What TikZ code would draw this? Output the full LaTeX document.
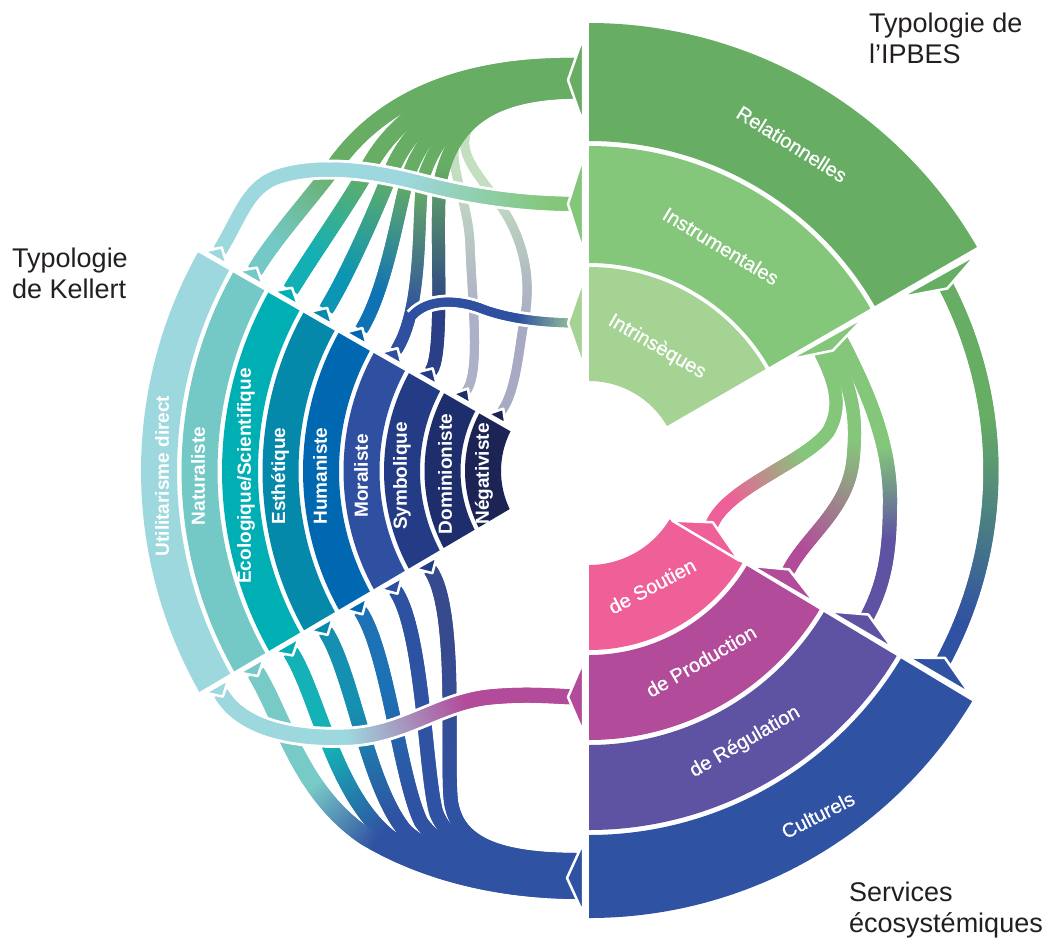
\documentclass[tikz,border=0pt]{standalone}
\usepackage{fontspec}
\setmainfont{Liberation Sans}
\newfontfamily\labfont[FakeBold=0.6]{Liberation Sans}
\usetikzlibrary{calc,decorations.markings}
\definecolor{crel}{HTML}{67AD64}
\definecolor{cinst}{HTML}{84C77B}
\definecolor{cintr}{HTML}{A5D394}
\definecolor{csout}{HTML}{EF5F98}
\definecolor{cprod}{HTML}{B24B9A}
\definecolor{creg}{HTML}{5E53A2}
\definecolor{ccult}{HTML}{3052A2}
\definecolor{kutil}{HTML}{9DD8DF}
\definecolor{knat}{HTML}{74C8C6}
\definecolor{keco}{HTML}{00AFB4}
\definecolor{kest}{HTML}{0589AB}
\definecolor{khum}{HTML}{0068B0}
\definecolor{kmor}{HTML}{2F4FA0}
\definecolor{ksym}{HTML}{233C85}
\definecolor{kdom}{HTML}{1E2D6C}
\definecolor{kneg}{HTML}{1C2456}
\definecolor{rnat}{HTML}{74C8C6}
\definecolor{reco}{HTML}{12B0B5}
\definecolor{rest}{HTML}{0D96B3}
\definecolor{rhum}{HTML}{0F72B5}
\definecolor{rmor}{HTML}{2F50A0}
\definecolor{rsym}{HTML}{2A3F86}
\definecolor{rdom}{HTML}{ADB1C8}
\definecolor{rneg}{HTML}{A8AAC3}
\definecolor{cpale}{HTML}{C4DEC0}
\definecolor{bnat}{HTML}{78CAC7}
\definecolor{beco}{HTML}{14B2B6}
\definecolor{best}{HTML}{1690B1}
\definecolor{bhum}{HTML}{1C72B5}
\definecolor{bmor}{HTML}{2E52A2}
\definecolor{bsym}{HTML}{384A8E}
\definecolor{ctext}{HTML}{231F20}
% gradient ribbon: width, colour A, colour B, fraction start, fraction end, path
\newcommand\rib[6]{%
  \path[decorate,decoration={markings,mark=between positions 0 and 1 step 2pt with {%
    \pgfmathsetmacro\ribt{(\pgfkeysvalueof{/pgf/decoration/mark info/distance from start}/\pgfdecoratedpathlength-#4)/(#5-#4)}%
    \pgfmathtruncatemacro\ribp{100-100*max(0,min(1,\ribt))}%
    \fill[#2!\ribp!#3] (-2pt,-#1pt/2) rectangle (2pt,#1pt/2);}}] #6;}
\newcommand\sect[5]{%
  \fill[#5] (#1:#3) arc[start angle=#1,end angle=#2,radius=#3] -- (#2:#4) arc[start angle=#2,end angle=#1,radius=#4] -- cycle;}
\newcommand\rtab[6]{%
  \filldraw[fill=#6,tabline] (#1:#2) -- (#4:#5) -- (#1:#3) -- cycle;}
\newcommand\karc[2]{%
  \pgfmathsetmacro\kro{448-40.5*#1}\pgfmathsetmacro\kri{\kro-36}%
  \pgfmathsetmacro\kbo{149.5+427/\kro}\pgfmathsetmacro\kto{209.8-262/\kro}%
  \pgfmathsetmacro\kbi{149.5+427/\kri}\pgfmathsetmacro\kti{209.8-262/\kri}%
  \fill[#2] (\kbo:\kro) arc[start angle=\kbo,end angle=\kto,radius=\kro] -- (\kti:\kri) arc[start angle=\kti,end angle=\kbi,radius=\kri] -- cycle;}
\newcommand\ktabT[3]{%
  \pgfmathsetmacro\tkr{430-40.5*#1}\pgfmathsetmacro\tka{209.8-262/\tkr}%
  \filldraw[fill=#2,tabline] ({\tka+229/\tkr}:{\tkr-#3/2}) -- ({\tka+917/\tkr}:\tkr) -- ({\tka+229/\tkr}:{\tkr+#3/2}) -- cycle;}
\newcommand\ktabB[3]{%
  \pgfmathsetmacro\tkr{430-40.5*#1}\pgfmathsetmacro\tka{149.5+427/\tkr}%
  \filldraw[fill=#2,tabline] ({\tka-229/\tkr}:{\tkr-#3/2}) -- ({\tka-917/\tkr}:\tkr) -- ({\tka-229/\tkr}:{\tkr+#3/2}) -- cycle;}
\begin{document}
\begin{tikzpicture}[x=1pt,y=-1pt,
  tabline/.style={draw=white,line width=2.5pt,line join=round},
  lab/.style={text=white,font=\labfont\fontsize{20}{24}\selectfont,inner sep=0pt},
  klab/.style={text=white,font=\bfseries\fontsize{19}{23}\selectfont,inner sep=0pt,rotate=90},
  corner/.style={text=ctext,font=\fontsize{27}{31}\selectfont,align=left,inner sep=0pt,anchor=north west}]
\fill[white] (0,0) rectangle (1049,938);
\path[use as bounding box] (0,0) rectangle (1049,938);
\coordinate (C) at (589,471);
\begin{scope}[shift={(589,471)}]
  \foreach \k in {0,...,8}{%
    \pgfmathsetmacro\kr{430-40.5*\k}%
    \pgfmathsetmacro\kat{209.8-262/\kr+802/\kr}%
    \pgfmathsetmacro\kab{149.5+427/\kr-802/\kr}%
    \coordinate (KT\k) at (\kat:\kr);
    \coordinate (KB\k) at (\kab:\kr);
  }
  \coordinate (IA2) at (-27:284);
  \coordinate (IA3) at (-27:272);
  \coordinate (IA4) at (-27:260);
  \coordinate (RgE) at (27.7:314);
  \coordinate (PrE) at (26.8:223);
  \coordinate (SoE) at (23.3:134);
\end{scope}
% ---------- top ribbons (Relationnelles trunk) ----------
\rib{9}{cpale}{rdom}{0.45}{0.8}{(580,89) .. controls (497,89) and (462,108) .. (455,140) .. controls (449,170) and (468,200) .. (470,245) .. controls (472,300) and ($(KT7)!25pt!90:(C)$) .. (KT7)}
\rib{9}{cpale}{rneg}{0.45}{0.8}{(580,91) .. controls (500,91) and (470,108) .. (465,138) .. controls (461,165) and (495,190) .. (512,225) .. controls (528,258) and (530,290) .. (524,322) .. controls (519,348) and ($(KT8)!25pt!90:(C)$) .. (KT8)}
\rib{13}{crel}{rsym}{0.45}{0.85}{(580,92) .. controls (497,92) and (455,118) .. (441,178) .. controls (434,210) and ($(KT6)!25pt!90:(C)$) .. (KT6)}
\rib{12}{crel}{rmor}{0.55}{0.9}{(580,86) .. controls (492,86) and (443,118) .. (424,176) .. controls (416,202) and ($(KT5)!55pt!90:(C)$) .. (KT5)}
\rib{13}{crel}{rhum}{0.58}{0.9}{(580,81) .. controls (486,81) and (430,115) .. (409,174) .. controls (400,200) and ($(KT4)!50pt!90:(C)$) .. (KT4)}
\rib{15}{crel}{rest}{0.6}{0.9}{(580,76) .. controls (480,76) and (416,110) .. (391,172) .. controls (380,200) and ($(KT3)!45pt!90:(C)$) .. (KT3)}
\rib{16}{crel}{reco}{0.64}{0.9}{(580,71) .. controls (472,70) and (402,104) .. (367,170) .. controls (352,198) and ($(KT2)!40pt!90:(C)$) .. (KT2)}
\rib{16}{crel}{rnat}{0.68}{0.92}{(580,66) .. controls (470,64) and (385,95) .. (335,165) .. controls (318,190) and ($(KT1)!40pt!90:(C)$) .. (KT1)}
% Intrinseques -> Moraliste
\draw[white,line width=15pt] (580,323) .. controls (540,323) and (505,318) .. (480,308) .. controls (458,300) and (428,298) .. (412,316);
\rib{9}{cintr}{rmor}{0.0}{0.3}{(580,323) .. controls (540,323) and (505,318) .. (480,308) .. controls (458,300) and (428,298) .. (412,316) .. controls (405,326) and ($(KT5)!15pt!90:(C)$) .. (KT5)}
% Instrumentales -> Utilitarisme
\draw[white,line width=20pt] (580,204) .. controls (520,204) and (470,196) .. (420,183) .. controls (370,170) and (320,164) .. (280,176) .. controls (248,186) and ($(KT0)!40pt!90:(C)$) .. (KT0);
\rib{14}{cinst}{kutil}{0.08}{0.45}{(580,204) .. controls (520,204) and (470,196) .. (420,183) .. controls (370,170) and (320,164) .. (280,176) .. controls (248,186) and ($(KT0)!40pt!90:(C)$) .. (KT0)}
% ---------- bottom ribbons (to Culturels) ----------
\rib{14}{bsym}{ccult}{0.2}{0.6}{(KB6) .. controls ($(KB6)!50pt!-90:(C)$) and (446,760) .. (451,802) .. controls (458,845) and (500,860) .. (580,860)}
\rib{14}{bmor}{ccult}{0.1}{0.5}{(KB5) .. controls ($(KB5)!50pt!-90:(C)$) and (425,770) .. (436,812) .. controls (450,850) and (500,866) .. (580,866)}
\rib{14}{bhum}{ccult}{0.2}{0.5}{(KB4) .. controls ($(KB4)!50pt!-90:(C)$) and (400,778) .. (421,822) .. controls (445,856) and (500,872) .. (580,872)}
\rib{15}{best}{ccult}{0.2}{0.5}{(KB3) .. controls ($(KB3)!50pt!-90:(C)$) and (368,788) .. (406,832) .. controls (442,862) and (500,878) .. (580,878)}
\rib{16}{beco}{ccult}{0.25}{0.5}{(KB2) .. controls ($(KB2)!50pt!-90:(C)$) and (335,795) .. (390,838) .. controls (440,868) and (500,884) .. (580,884)}
\rib{18}{bnat}{ccult}{0.3}{0.5}{(KB1) .. controls ($(KB1)!50pt!-90:(C)$) and (300,792) .. (365,836) .. controls (425,872) and (500,890) .. (580,890)}
% Utilitarisme -> de Production
\draw[white,line width=21pt] (KB0) .. controls ($(KB0)!35pt!-90:(C)$) and (285,740) .. (350,737) .. controls (405,734) and (440,702) .. (490,697) .. controls (530,693) and (560,697) .. (580,697);
\rib{15}{kutil}{cprod}{0.37}{0.7}{(KB0) .. controls ($(KB0)!35pt!-90:(C)$) and (285,740) .. (350,737) .. controls (405,734) and (440,702) .. (490,697) .. controls (530,693) and (560,697) .. (580,697)}
% ---------- right ribbons ----------
\rib{14}{cinst}{creg}{0.4}{0.72}{(IA2) .. controls ($(IA2)!50pt!90:(C)$) and (890,440) .. (890,500) .. controls (890,550) and ($(RgE)!40pt!-90:(C)$) .. (RgE)}
\rib{13}{cinst}{cprod}{0.4}{0.9}{(IA3) .. controls ($(IA3)!50pt!90:(C)$) and (857,420) .. (853,460) .. controls (848,510) and ($(PrE)!40pt!-90:(C)$) .. (PrE)}
\rib{13}{cinst}{csout}{0.5}{0.88}{(IA4) .. controls ($(IA4)!35pt!90:(C)$) and (842,408) .. (828,432) .. controls (805,462) and ($(SoE)!40pt!-90:(C)$) .. (SoE)}
\begin{scope}[shift={(589,471)}]
  \rib{15}{crel}{ccult}{0.36}{0.89}{(-27.6:402) arc[start angle=-27.6,end angle=28.2,radius=402]}
  % ---------- sectors ----------
  \sect{-90}{-30}{330}{448}{crel}
  \sect{-90}{-30}{208}{325}{cinst}
  \sect{-90}{-30}{90}{204}{cintr}
  \sect{31}{90}{364}{447}{ccult}
  \sect{31}{90}{274}{359}{creg}
  \sect{31}{90}{184}{269}{cprod}
  \sect{31}{90}{94}{179}{csout}
  \karc{0}{kutil}
  \karc{1}{knat}
  \karc{2}{keco}
  \karc{3}{kest}
  \karc{4}{khum}
  \karc{5}{kmor}
  \karc{6}{ksym}
  \karc{7}{kdom}
  \karc{8}{kneg}
  % ---------- tabs ----------
  \rtab{-29.2}{356}{444}{-27}{402}{crel}
  \rtab{-29.2}{228}{316}{-26.3}{272}{cinst}
  \rtab{30.3}{370}{441}{27.7}{402}{ccult}
  \rtab{30.3}{278}{352}{27.2}{314}{creg}
  \rtab{30.3}{188}{262}{26.2}{223}{cprod}
  \rtab{30.8}{97}{175}{22.5}{134}{csout}
  \ktabT{0}{kutil}{26}
  \ktabT{1}{knat}{28}
  \ktabT{2}{keco}{28}
  \ktabT{3}{kest}{26}
  \ktabT{4}{khum}{24}
  \ktabT{5}{kmor}{24}
  \ktabT{6}{ksym}{24}
  \ktabT{7}{kdom}{20}
  \ktabT{8}{kneg}{20}
  \ktabB{0}{kutil}{26}
  \ktabB{1}{knat}{28}
  \ktabB{2}{keco}{28}
  \ktabB{3}{kest}{26}
  \ktabB{4}{khum}{24}
  \ktabB{5}{kmor}{24}
  \ktabB{6}{ksym}{24}
\end{scope}
\filldraw[fill=crel,tabline] (583,37) -- (568,80) -- (583,123) -- cycle;
\filldraw[fill=cinst,tabline] (583,157) -- (568,204) -- (583,251) -- cycle;
\filldraw[fill=cintr,tabline] (583,280) -- (568,323) -- (583,366) -- cycle;
\filldraw[fill=cprod,tabline] (583,662) -- (568,697) -- (583,732) -- cycle;
\filldraw[fill=ccult,tabline] (583,843) -- (567,878) -- (583,913) -- cycle;
% ---------- labels ----------
\node[lab,rotate=-32] (lrel) at (792,144) {Relationnelles};
\node[lab,rotate=-31] (linst) at (721,246) {Instrumentales};
\node[lab,rotate=-30] (lintr) at (657,347) {Intrinsèques};
\node[lab,rotate=28] (lsout) at (652,586) {de Soutien};
\node[lab,rotate=30] (lprod) at (701,661) {de Production};
\node[lab,rotate=30] (lreg) at (745,742) {de Régulation};
\node[lab,rotate=27] (lcult) at (818,815) {Culturels};
\node[klab] (k0) at (162,476) {Utilitarisme direct};
\node[klab] (k1) at (198,476) {Naturaliste};
\node[klab] (k2) at (246,476) {Ecologique/Scientifique};
\node[klab] (k3) at (280,476) {Esthétique};
\node[klab] (k4) at (320,476) {Humaniste};
\node[klab] (k5) at (361,476) {Moraliste};
\node[klab] (k6) at (402,476) {Symbolique};
\node[klab] (k7) at (445,474) {Dominioniste};
\node[klab] (k8) at (484,474) {Négativiste};
\node[corner] (tipbes) at (869,13) {Typologie de\\l’IPBES};
\node[corner] (tkel) at (12,248) {Typologie\\de Kellert};
\node[corner] (tserv) at (849,882) {Services\\écosystémiques};
\end{tikzpicture}
\end{document}
